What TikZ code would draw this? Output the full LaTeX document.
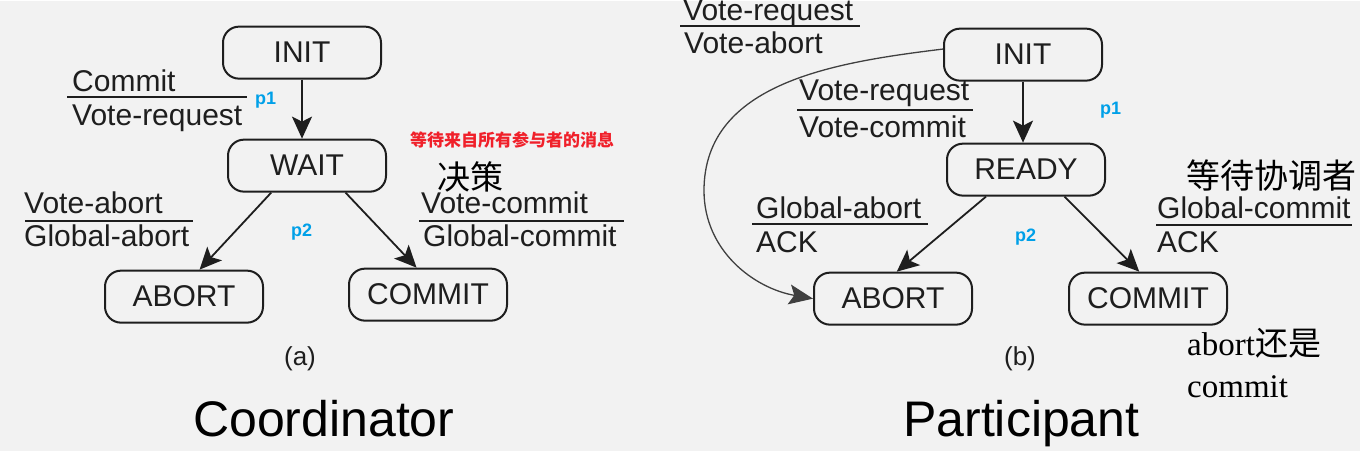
\documentclass[tikz,border=0pt]{standalone}
\usepackage{fontspec}
\setmainfont{Liberation Sans}
\newfontfamily\cjk{Noto Sans CJK SC}
\newfontfamily\serifL{Liberation Serif}
\usetikzlibrary{arrows.meta}
\definecolor{bgcol}{HTML}{F2F2F2}
\definecolor{inkcol}{HTML}{1E1E1E}
\definecolor{pblue}{HTML}{00A0E8}
\definecolor{pred}{HTML}{F0202A}
\begin{document}
\begin{tikzpicture}[x=1pt,y=-1pt,
  state/.style={draw=inkcol, line width=2pt, rounded corners=16pt, minimum width=158pt, minimum height=52pt, inner sep=0pt, text=inkcol, font=\fontsize{30}{34}\selectfont},
  lbl/.style={anchor=base west, inner sep=0pt, text=inkcol, font=\fontsize{30}{34}\selectfont},
  pl/.style={anchor=base west, inner sep=0pt, text=pblue, font=\fontsize{18}{20}\selectfont\bfseries},
  note/.style={anchor=base west, inner sep=0pt, text=black, font=\fontsize{33}{38}\selectfont},
  bar/.style={draw=inkcol, line width=2pt},
  trans/.style={draw=inkcol, line width=1.8pt, -{Stealth[length=22pt,width=20pt,inset=5pt]}},
  curvetr/.style={draw=inkcol!85, line width=1.3pt, -{Stealth[length=24pt,width=20pt,inset=5pt]}},
  subcap/.style={inner sep=0pt, text=inkcol, font=\fontsize{26}{30}\selectfont},
  bigtitle/.style={anchor=base west, inner sep=0pt, text=black, font=\fontsize{50}{56}\selectfont}
]
\path[fill=bgcol] (0,0) rectangle (1360,450);

% ---------------- Coordinator ----------------
\node[state] (initL) at (302,52) {INIT};
\node[state] (wait) at (307,165) {WAIT};
\node[state] (abortL) at (184,296) {ABORT};
\node[state] (commitL) at (428,294) {COMMIT};

\draw[trans] (initL.south) -- (initL.south |- wait.north);
\draw[trans] (wait.217) -- (abortL.60);
\draw[trans] (wait.325) -- (commitL.113);

\node[lbl] (l1a) at (72,91) {Commit};
\draw[bar] (67,96) -- (247,96);
\node[lbl] (l1b) at (72,125) {Vote-request};
\node[pl] (p1L) at (255,104) {p1};

\node[anchor=base west, inner sep=0pt, text=pred, font=\fontsize{17}{20}\selectfont\cjk\bfseries] (redn) at (410,146) {等待来自所有参与者的消息};
\node[note, font=\fontsize{33}{38}\selectfont\cjk] (juece) at (437,189) {决策};

\node[lbl] (l2a) at (24,213) {Vote-abort};
\draw[bar] (25,220) -- (193,220);
\node[lbl] (l2b) at (24,246) {Global-abort};
\node[pl] (p2L) at (291,236) {p2};

\node[lbl] (l3a) at (421,213) {Vote-commit};
\draw[bar] (419,220) -- (624,220);
\node[lbl] (l3b) at (423,246) {Global-commit};

\node[subcap] (capa) at (300,358) {(a)};
\node[bigtitle] (coord) at (193,436) {Coordinator};

% ---------------- Participant ----------------
\node[state] (initR) at (1023,54) {INIT};
\node[state] (ready) at (1026,169) {READY};
\node[state] (abortR) at (893,298) {ABORT};
\node[state] (commitR) at (1148,298) {COMMIT};
\coordinate (bend) at (704,190);

\draw[trans] (initR.south) -- (initR.south |- ready.north);
\draw[trans] (ready.214) -- (abortR.82);
\draw[trans] (ready.325) -- (commitR.108);
\draw[curvetr] (initR.176) to[out=187,in=90] (bend) to[out=-90,in=170] (abortR.west);

\node[lbl] (r1a) at (683,20) {Vote-request};
\draw[bar] (680,25) -- (860,25);
\node[lbl] (r1b) at (684,53) {Vote-abort};

\node[lbl] (r2a) at (799,100) {Vote-request};
\draw[bar] (797,109) -- (973,109);
\node[lbl] (r2b) at (799,137) {Vote-commit};
\node[pl] (p1R) at (1100,114) {p1};

\node[lbl] (r3a) at (756,218) {Global-abort};
\draw[bar] (752,223) -- (928,223);
\node[lbl] (r3b) at (756,252) {ACK};
\node[pl] (p2R) at (1015,241) {p2};

\node[note, font=\fontsize{34}{38}\selectfont\cjk] (dengdai) at (1186,188) {等待协调者};
\node[lbl] (r4a) at (1157,218) {Global-commit};
\draw[bar] (1156,224) -- (1352,224);
\node[lbl] (r4b) at (1157,252) {ACK};

\node[note] (ab) at (1187,355) {{\serifL abort}{\cjk 还是}};
\node[note] (cm) at (1187,397) {\serifL commit};

\node[subcap] (capb) at (1020,358) {(b)};
\node[bigtitle] (part) at (903,436) {Participant};
\end{tikzpicture}
\end{document}
